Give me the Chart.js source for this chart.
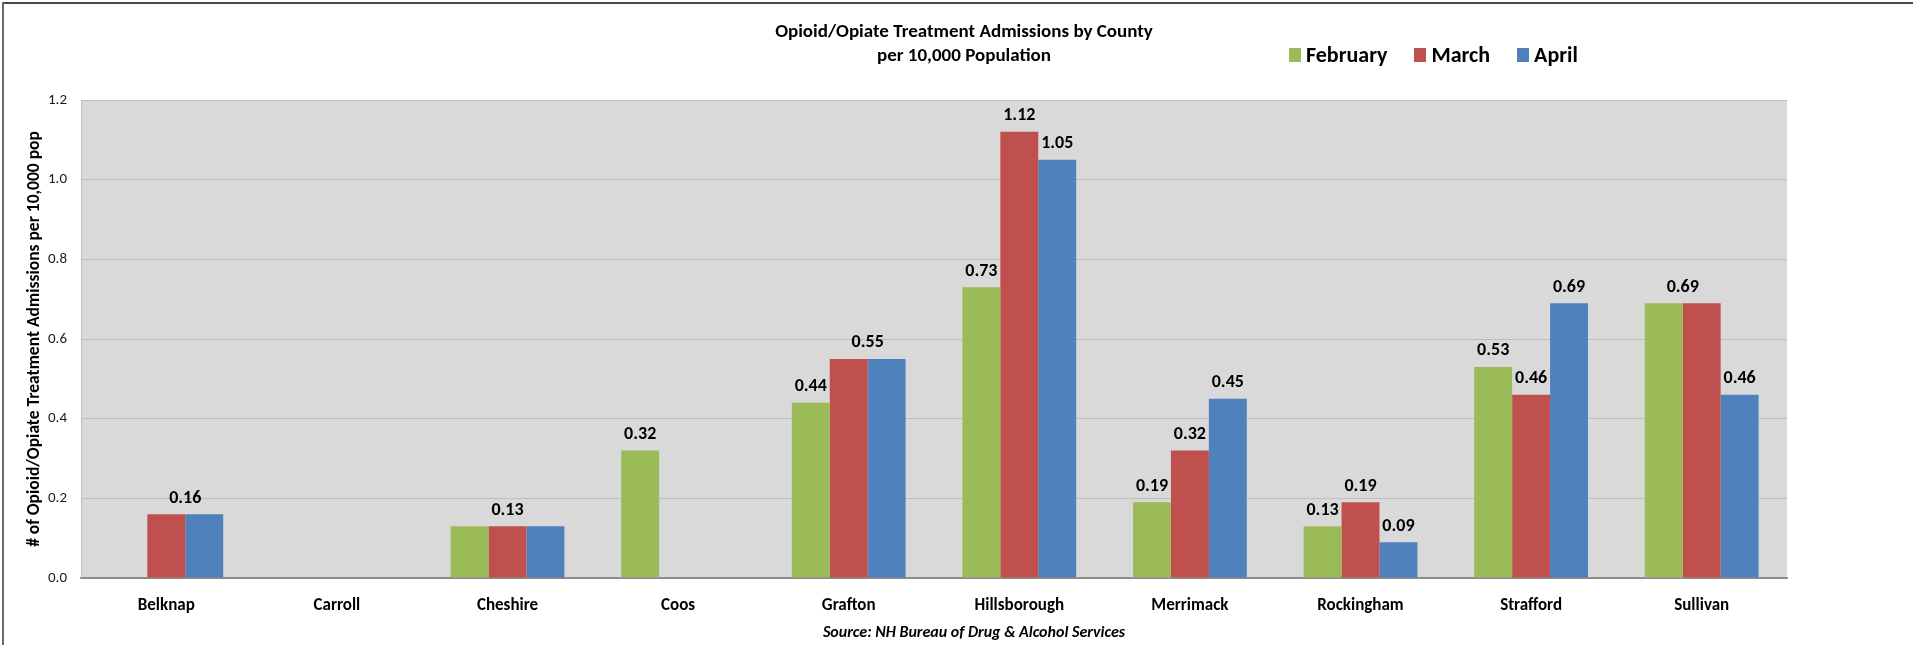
<!DOCTYPE html>
<html>
<head>
<meta charset="utf-8">
<script src="https://cdn.jsdelivr.net/npm/chart.js@4.4.1/dist/chart.umd.min.js"></script>
<style>
  html, body { margin: 0; padding: 0; background: #fff; }
  #wrap { position: relative; width: 1913px; height: 645px; overflow: hidden; background: #fff;
          font-family: Carlito, Lato, sans-serif; color: #000; }
  #frameTop { position: absolute; left: 2px; top: 2px; width: 1911px; height: 2px; background: #4a4a4a; }
  #frameLeft { position: absolute; left: 2px; top: 2px; width: 2px; height: 643px; background: #6a6a6a; }
  #title { position: absolute; left: 714px; top: 19px; width: 500px; text-align: center;
           font-weight: bold; font-size: 19px; line-height: 24px; }
  #legend { position: absolute; left: 1289px; top: 43px; display: flex; align-items: center;
            font-weight: bold; font-size: 22px; line-height: 24px; }
  #legend .item { display: flex; align-items: center; margin-right: 27px; }
  #legend .box { width: 12px; height: 14px; margin-right: 5px; }
  #source { position: absolute; left: 724px; top: 623px; width: 500px; text-align: center;
            font-weight: bold; font-style: italic; font-size: 16px; line-height: 18px; }
  canvas { position: absolute; left: 0; top: 0; }
</style>
</head>
<body>
<div id="wrap">
  <canvas id="countyChart" width="1913" height="645"></canvas>
  <div id="frameTop"></div>
  <div id="frameLeft"></div>
  <div id="title">Opioid/Opiate Treatment Admissions by County<br>per 10,000 Population</div>
  <div id="legend"></div>
  <div id="source">Source: NH Bureau of Drug &amp; Alcohol Services</div>
</div>
<script>
// 縣名與各月數值（每萬人）
const counties = ['Belknap', 'Carroll', 'Cheshire', 'Coos', 'Grafton', 'Hillsborough',
                  'Merrimack', 'Rockingham', 'Strafford', 'Sullivan'];
const february = [null, null, 0.13, 0.32, 0.44, 0.73, 0.19, 0.13, 0.53, 0.69];
const march    = [0.16, null, 0.13, null, 0.55, 1.12, 0.32, 0.19, 0.46, 0.69];
const april    = [0.16, null, 0.13, null, 0.55, 1.05, 0.45, 0.09, 0.69, 0.46];
const monthNames = ['February', 'March', 'April'];
const monthColors = ['#9BBB59', '#C0504D', '#4F81BD'];

// which bars carry a value label; a group of series shares one label
const labelGroups = [
    [[1, 2]],
    [],
    [[0, 2]],
    [[0]],
    [[0], [1, 2]],
    [[0], [1], [2]],
    [[0], [1], [2]],
    [[0], [1], [2]],
    [[0], [1], [2]],
    [[0, 1], [2]]
];

const FONT = 'Carlito, Lato, sans-serif';

// 灰色繪圖區背景
const plotBg = {
    id: 'plotBg',
    beforeDraw(chart) {
        const { ctx, chartArea: a } = chart;
        ctx.save();
        ctx.fillStyle = '#D9D9D9';
        ctx.fillRect(a.left, a.top, a.width, a.height);
        ctx.restore();
    }
};

// 數值標籤
const barLabels = {
    id: 'barLabels',
    afterDatasetsDraw(chart) {
        const ctx = chart.ctx;
        ctx.save();
        ctx.font = 'bold 18px ' + FONT;
        ctx.fillStyle = '#000';
        ctx.textAlign = 'center';
        ctx.textBaseline = 'bottom';
        labelGroups.forEach((groups, i) => {
            groups.forEach(g => {
                const first = chart.getDatasetMeta(g[0]).data[i];
                const last = chart.getDatasetMeta(g[g.length - 1]).data[i];
                const v = chart.data.datasets[g[0]].data[i];
                const top = Math.min(first.y, last.y);
                ctx.fillText(v.toFixed(2), (first.x + last.x) / 2, top - 7);
            });
        });
        ctx.restore();
    }
};

const series = [february, march, april];

const chart = new Chart(document.getElementById('countyChart'), {
    type: 'bar',
    data: {
        labels: counties,
        datasets: series.map((d, k) => ({
            label: monthNames[k],
            data: d,
            backgroundColor: monthColors[k],
            borderWidth: 0,
            categoryPercentage: 0.667,
            barPercentage: 1.0
        }))
    },
    options: {
        responsive: false,
        animation: false,
        layout: { padding: { left: 0, top: 100, right: 126, bottom: 0 } },
        plugins: {
            legend: { display: false },
            title: { display: false },
            tooltip: { enabled: false }
        },
        scales: {
            x: {
                grid: { display: false },
                border: { display: true, color: '#8C8C8C', width: 2 },
                ticks: { color: '#000', padding: 10, font: { family: FONT, size: 17, weight: 'bold' } },
                afterFit(axis) { axis.height = 67; }
            },
            y: {
                min: 0,
                max: 1.2,
                grid: {
                    drawTicks: false,
                    color: c => (c.tick && c.tick.value === 0) ? '#8C8C8C' : '#BDBDBD'
                },
                border: { display: true, color: '#BDBDBD' },
                ticks: {
                    stepSize: 0.2,
                    padding: 14,
                    color: '#1a1a1a',
                    font: { family: FONT, size: 15 },
                    callback: v => v.toFixed(1)
                },
                title: {
                    display: true,
                    text: '# of Opioid/Opiate Treatment Admissions per 10,000 pop',
                    color: '#000',
                    font: { family: FONT, size: 17.5, weight: 'bold' },
                    padding: { top: 24, bottom: 0 }
                },
                afterFit(axis) { axis.width = 81; }
            }
        }
    },
    plugins: [plotBg, barLabels]
});

// HTML 圖例
document.getElementById('legend').innerHTML = chart.data.datasets.map(ds =>
    `<div class="item"><span class="box" style="background:${ds.backgroundColor}"></span>${ds.label}</div>`
).join('');
</script>
</body>
</html>
